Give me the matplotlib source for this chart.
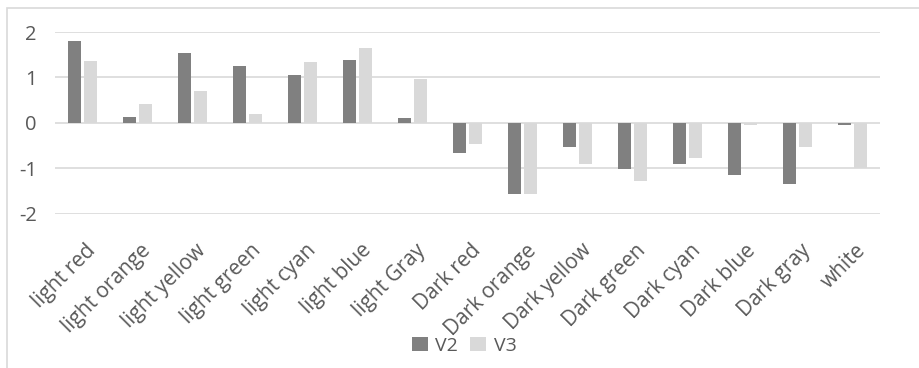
import matplotlib
matplotlib.use("Agg")
import matplotlib.pyplot as plt
from matplotlib.patches import Rectangle, Patch
from matplotlib.transforms import ScaledTranslation
import numpy as np

plt.rcParams['font.family'] = ['Open Sans', 'DejaVu Sans']

categories = ["light red", "light orange", "light yellow", "light green", "light cyan",
              "light blue", "light Gray", "Dark red", "Dark orange", "Dark yellow",
              "Dark green", "Dark cyan", "Dark blue", "Dark gray", "white"]
v2 = [1.81, 0.13, 1.53, 1.24, 1.05, 1.38, 0.10, -0.66, -1.57, -0.54, -1.02, -0.90, -1.16, -1.36, -0.06]
v3 = [1.36, 0.41, 0.69, 0.19, 1.33, 1.64, 0.97, -0.47, -1.56, -0.92, -1.28, -0.78, -0.05, -0.54, -1.00]
yticks = [-2, -1, 0, 1, 2]

W, H = 920, 368
fig = plt.figure(figsize=(W / 100, H / 100), dpi=100)

# chart-area border
fig.patches.append(Rectangle((7 / W, 0 - 0.01), 1.0, 1 - 8 / H + 0.01,
                             transform=fig.transFigure, fill=False,
                             edgecolor="#d9d9d9", linewidth=1.2))

left, right, top, bottom = 55, 880, 32, 213.5
ax = fig.add_axes([left / W, 1 - bottom / H, (right - left) / W, (bottom - top) / H])

x = np.arange(len(categories))
bw = 0.228
off = 0.146
c2, c3 = "#808080", "#d9d9d9"
ax.bar(x - off, v2, width=bw, color=c2, zorder=3, label="V2")
ax.bar(x + off, v3, width=bw, color=c3, zorder=3, label="V3")

ax.set_xlim(-0.5, len(categories) - 0.5)
ax.set_ylim(-2, 2)
ax.set_yticks(yticks)
ax.set_yticklabels([str(t) for t in yticks])
ax.yaxis.grid(True, color="#d9d9d9", linewidth=1.2, zorder=0)
for s in ax.spines.values():
    s.set_visible(False)
ax.tick_params(axis="both", length=0, colors="#595959")
ax.tick_params(axis="y", labelsize=14.5, pad=13)

ax.set_xticks(x)
ax.set_xticklabels(categories, rotation=45, ha="right", va="top",
                   rotation_mode="anchor", fontsize=15, color="#595959")
ax.tick_params(axis="x", pad=19)
shift = ScaledTranslation(3 / 100, 0, fig.dpi_scale_trans)
for lbl in ax.get_xticklabels():
    lbl.set_transform(lbl.get_transform() + shift)

handles = [Patch(facecolor=c2, label="V2"), Patch(facecolor=c3, label="V3")]
fig.legend(handles=handles, loc="center", bbox_to_anchor=(464 / W, 1 - 346 / H),
           ncol=2, frameon=False, fontsize=14, handlelength=0.82, handleheight=0.75,
           handletextpad=0.4, columnspacing=0.6, labelcolor="#595959")

fig.savefig("out.png", dpi=100, facecolor="white")
